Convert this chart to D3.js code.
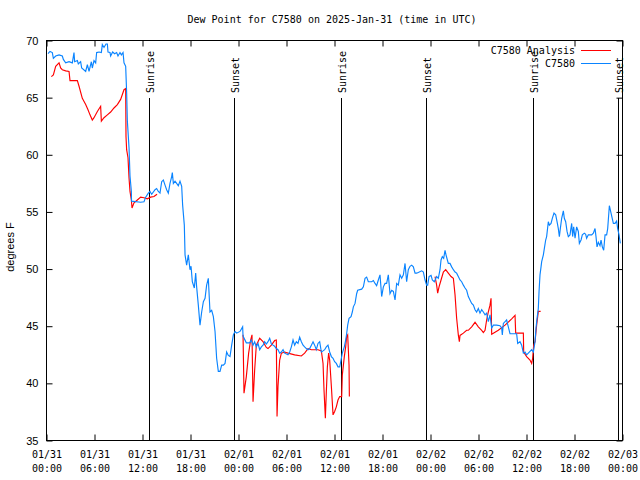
<!DOCTYPE html>
<html><head><meta charset="utf-8">
<script src="https://cdn.jsdelivr.net/npm/d3@7"></script>
<style>body{margin:0;background:#fff}</style>
</head><body>
<svg id="c" width="640" height="480"></svg>
<script>
// ---------------- data ----------------
const chartTitle = "Dew Point for C7580 on 2025-Jan-31 (time in UTC)";
const yTitle = "degrees F";
const seriesNames = ["C7580 Analysis", "C7580"];
const startUTC = Date.UTC(2025, 0, 31, 0, 0);
const xTickHours = [0, 6, 12, 18, 24, 30, 36, 42, 48, 54, 60, 66, 72];
const yTickValues = [35, 40, 45, 50, 55, 60, 65, 70];
const sunriseHours = [12.93, 36.92, 60.9];
const sunsetHours = [23.54, 47.55, 71.55];

// C7580 observations: [hours since 01/31 00:00 UTC, dew point F]
const c7580 = [
[0.25,68.8],[0.5,69.0],[0.79,68.9],[0.92,68.4],[1.21,68.6],[1.63,68.7],[2.04,68.6],[2.17,68.3],[2.46,68.0],[2.88,68.1],
[3.29,68.0],[3.5,68.9],[3.58,68.1],[3.92,68.2],[4.04,67.9],[4.33,68.1],[4.46,67.55],[4.96,67.25],[5.17,67.85],[5.38,67.25],
[5.67,68.1],[5.79,67.55],[6.0,68.2],[6.21,68.0],[6.33,68.9],[6.63,68.95],[6.92,68.9],[7.04,69.6],[7.25,69.35],[7.5,69.65],
[7.67,69.65],[7.75,68.95],[8.0,68.9],[8.08,68.6],[8.33,68.95],[8.58,68.8],[8.83,68.9],[9.0,68.6],[9.25,68.9],[9.42,68.7],
[9.63,68.9],[9.75,68.0],[9.96,67.7],[10.08,65.4],[10.17,62.9],[10.38,60.55],[10.5,58.1],[10.67,56.75],[10.69,55.9],[11.83,55.8],
[12.25,55.85],[12.46,56.25],[12.79,56.6],[13.0,56.75],[13.21,56.5],[13.63,56.9],[13.83,57.0],[14.04,56.75],[14.25,56.6],[14.46,57.6],
[14.67,57.75],[14.88,57.3],[15.08,56.9],[15.29,56.6],[15.5,57.45],[15.71,58.05],[15.79,58.4],[15.92,57.45],[16.13,57.65],[16.33,57.45],
[16.54,57.25],[16.75,57.65],[16.96,57.2],[17.08,55.55],[17.29,53.8],[17.38,51.2],[17.58,50.3],[17.79,51.2],[18.0,49.9],[18.13,50.2],
[18.29,48.85],[18.54,48.3],[18.71,49.6],[18.83,48.4],[19.04,46.8],[19.25,45.05],[19.46,46.2],[19.67,47.1],[19.88,47.4],[20.08,48.55],
[20.29,49.15],[20.5,46.2],[20.71,46.35],[20.92,45.8],[21.13,44.5],[21.33,42.15],[21.54,41.0],[21.75,41.0],[21.96,41.55],[22.17,41.55],
[22.38,41.7],[22.58,42.7],[22.79,42.4],[23.0,42.3],[23.21,43.3],[23.42,44.2],[23.63,44.5],[23.83,44.35],[24.25,44.5],[24.58,44.9],
[24.63,44.1],[25.04,43.5],[25.46,43.5],[25.67,43.75],[25.88,43.3],[26.08,43.6],[26.29,43.15],[26.5,43.45],[26.71,42.9],[26.92,43.15],
[27.13,43.3],[27.33,43.6],[27.54,43.4],[27.75,43.6],[27.96,43.9],[28.17,43.4],[28.38,43.3],[28.58,43.2],[28.79,43.0],[29.0,42.9],
[29.21,42.6],[29.42,42.7],[29.63,42.9],[29.83,42.6],[30.25,42.45],[30.46,42.7],[30.67,43.15],[30.88,43.75],[31.08,43.3],[31.29,43.6],
[31.5,43.45],[31.71,44.0],[31.92,43.6],[32.13,43.3],[32.33,43.15],[32.54,43.0],[32.75,42.9],[32.96,43.0],[33.17,43.3],[33.38,43.6],
[33.58,43.3],[33.79,42.9],[34.0,43.45],[34.21,43.6],[34.42,42.7],[34.63,42.8],[34.83,42.9],[35.04,43.15],[35.25,43.3],[35.46,42.7],
[35.67,42.3],[35.88,42.15],[36.08,41.85],[36.29,41.7],[36.5,41.4],[36.71,41.4],[36.88,42.0],[37.04,42.6],[37.29,43.15],[37.46,43.75],
[37.58,44.3],[37.71,45.05],[37.88,45.65],[38.13,45.8],[38.29,46.2],[38.42,46.65],[38.63,46.95],[38.83,47.8],[38.96,48.1],[39.46,48.2],
[39.67,48.4],[39.88,49.15],[40.08,49.25],[40.29,48.85],[40.71,48.85],[40.92,48.95],[41.13,48.7],[41.33,48.5],[41.54,49.0],[41.75,49.45],
[41.96,47.55],[42.17,48.4],[42.38,48.7],[42.58,48.7],[42.79,49.45],[43.0,47.8],[43.21,48.1],[43.42,48.0],[43.63,47.25],[43.83,48.7],
[44.04,48.55],[44.25,49.45],[44.46,49.15],[44.67,49.45],[44.88,50.45],[45.08,48.85],[45.29,49.9],[45.5,50.2],[45.71,50.3],[45.92,50.15],
[46.13,49.6],[46.33,49.6],[46.54,49.65],[46.96,49.8],[47.17,49.7],[47.38,49.0],[47.58,48.55],[47.71,48.55],[47.88,49.3],[48.13,49.4],
[48.29,49.0],[48.54,48.85],[48.83,49.3],[49.04,49.15],[49.25,49.9],[49.38,50.75],[49.54,51.05],[49.71,50.9],[49.88,51.6],[50.0,51.2],
[50.17,50.75],[50.29,50.45],[50.5,50.45],[50.71,50.15],[50.92,49.9],[51.13,49.7],[51.33,49.6],[51.54,49.3],[51.75,49.0],[51.96,48.85],
[52.17,48.55],[52.38,48.3],[52.58,48.1],[52.79,47.55],[53.0,47.25],[53.21,46.95],[53.42,46.8],[53.63,46.4],[53.83,46.2],[54.04,46.5],
[54.25,46.1],[54.46,46.4],[54.67,46.2],[54.88,45.95],[55.08,46.1],[55.29,45.35],[55.5,45.95],[55.71,44.8],[55.92,45.05],[56.33,45.05],
[56.75,45.0],[56.96,44.8],[57.04,44.2],[57.17,45.2],[57.38,45.35],[57.58,45.5],[57.79,44.9],[58.0,44.3],[58.63,44.3],[58.83,44.3],
[58.96,43.45],[59.25,43.6],[59.46,43.3],[59.67,42.6],[59.88,42.7],[60.08,42.45],[60.29,42.6],[60.71,42.9],[60.92,42.7],[61.13,43.6],
[61.25,44.8],[61.38,45.65],[61.54,46.5],[61.63,48.0],[61.75,49.45],[61.88,50.15],[61.96,50.6],[62.17,51.2],[62.29,51.75],[62.46,52.5],
[62.58,52.8],[62.79,54.1],[62.92,53.8],[63.13,53.95],[63.29,54.4],[63.5,54.85],[63.71,54.7],[63.88,54.1],[64.04,53.5],[64.17,52.8],
[64.29,53.5],[64.46,54.4],[64.67,55.05],[64.79,54.4],[64.96,54.1],[65.13,53.25],[65.29,52.8],[65.5,52.95],[65.71,53.95],[65.83,52.8],
[65.96,53.65],[66.13,52.65],[66.33,53.65],[66.54,53.25],[66.67,52.2],[66.88,52.5],[67.04,52.95],[67.29,53.1],[67.46,53.0],[67.58,52.65],
[67.79,52.95],[68.21,52.95],[68.42,53.1],[68.63,53.5],[68.75,52.8],[68.88,51.9],[69.04,52.3],[69.25,52.0],[69.38,52.5],[69.54,51.9],
[69.71,51.6],[69.88,52.95],[70.08,52.95],[70.21,53.5],[70.29,54.25],[70.42,55.5],[70.63,54.85],[70.92,53.95],[71.13,53.95],[71.33,54.15],
[71.46,53.5],[71.63,52.95],[71.79,52.2]
];

// C7580 Analysis: [hours, dew point F]; null marks a gap in the record
const c7580Analysis = [
[0.67,66.8],[0.92,66.95],[1.21,67.7],[1.63,68.0],[1.83,67.55],[2.04,67.4],[2.46,67.3],[2.88,67.25],[3.0,66.45],[3.92,66.45],
[4.13,65.95],[4.54,64.9],[4.96,64.35],[5.25,63.9],[5.5,63.45],[5.79,63.0],[6.0,63.2],[6.42,63.75],[6.83,64.2],[6.92,62.9],
[7.25,63.2],[7.67,63.45],[8.08,63.7],[8.5,64.05],[8.92,64.35],[9.33,64.8],[9.75,65.65],[9.96,65.75],[10.0,61.55],[10.08,60.4],
[10.25,59.7],[10.38,57.9],[10.5,56.75],[10.67,56.0],[10.75,55.3],[11.0,55.75],[11.42,56.0],[11.83,56.25],[12.25,56.2],[12.67,56.1],
[13.08,56.25],[13.5,56.3],[13.88,56.5],
null,
[24.63,44.2],[24.75,39.1],[25.04,40.55],[25.33,42.6],[25.58,43.75],[25.75,44.2],[25.88,38.35],[26.08,41.1],[26.29,43.3],[26.71,43.9],
[27.13,43.6],[27.54,43.1],[27.75,43.0],[28.17,43.3],[28.58,43.7],[28.79,43.75],[28.88,37.05],[29.0,39.7],[29.21,42.0],[29.42,42.6],
[29.83,42.7],[30.25,42.6],[31.08,42.45],[31.92,42.35],[32.33,42.6],[32.75,43.0],[33.17,42.9],[34.0,42.9],[34.42,42.8],[34.63,41.7],
[34.75,39.4],[34.92,36.9],[35.04,39.2],[35.17,41.4],[35.33,42.6],[35.46,42.0],[35.67,39.7],[35.88,37.2],[36.08,37.5],[36.29,37.9],
[36.5,38.5],[36.71,38.8],[36.96,38.8],[37.04,40.7],[37.29,42.3],[37.46,43.15],[37.58,44.05],[37.71,44.2],[37.88,41.55],[37.92,38.8],
null,
[48.63,49.3],[48.83,48.55],[48.96,47.85],[49.13,48.4],[49.38,49.0],[49.67,49.7],[49.96,49.9],[50.29,49.6],[50.63,49.3],[50.92,49.15],
[51.13,47.7],[51.33,45.65],[51.54,44.2],[51.67,43.6],[51.75,44.15],[52.17,44.35],[52.58,44.6],[52.79,44.6],[53.21,44.9],[53.63,45.3],
[54.04,44.9],[54.46,44.6],[54.67,44.4],[54.88,44.6],[55.08,45.5],[55.29,46.2],[55.5,46.8],[55.63,47.4],[55.71,44.25],[56.54,44.6],
[57.38,45.05],[58.21,45.6],[58.63,45.9],[58.71,44.35],[59.67,44.35],[59.71,42.7],[60.08,42.3],[60.5,42.0],[60.71,41.7],[60.83,42.15],
[60.96,43.3],[61.13,43.6],[61.21,44.2],[61.33,45.05],[61.46,45.8],[61.54,46.25],[61.83,46.25]
];

// ---------------- drawing ----------------
const colorAnalysis = "#ff0000";
const colorObs = "#0a84ff";
const monoFont = "'DejaVu Sans Mono', 'Liberation Mono', monospace";
const sansFont = "'Liberation Sans', Arial, sans-serif";
const L = 46, R = 622, T = 40, B = 440;
const hourToDate = h => new Date(startUTC + h * 3600e3);

const svg = d3.select("#c");
svg.append("rect").attr("width", 640).attr("height", 480).attr("fill", "#fff");

const x = d3.scaleUtc().domain([hourToDate(0), hourToDate(72)]).range([L, R]);
const y = d3.scaleLinear().domain([35, 70]).range([B, T]);

// title
svg.append("text").attr("x", 332).attr("y", 23).attr("text-anchor", "middle")
  .attr("font-family", monoFont).attr("font-size", 10).text(chartTitle);

// y title
svg.append("text").attr("transform", "translate(14,247) rotate(-90)").attr("text-anchor", "middle")
  .attr("font-family", sansFont).attr("font-size", 11).text(yTitle);

// axes
const fmtDay = d3.utcFormat("%m/%d"), fmtTime = d3.utcFormat("%H:%M");
const xTicks = xTickHours.map(hourToDate);
const gx = svg.append("g").attr("transform", `translate(0.5,${B + 0.5})`)
  .call(d3.axisBottom(x).tickValues(xTicks).tickSizeInner(-6).tickSizeOuter(0).tickPadding(10).tickFormat(""));
gx.select(".domain").remove();
gx.selectAll(".tick line").attr("stroke", "#000");
gx.selectAll(".tick").each(function(d) {
  const t = d3.select(this).append("text").attr("fill", "#000").attr("y", 17)
    .attr("font-family", monoFont).attr("font-size", 10).attr("text-anchor", "middle");
  t.append("tspan").attr("x", 0).text(fmtDay(d));
  t.append("tspan").attr("x", 0).attr("dy", 14).text(fmtTime(d));
});
const gxTop = svg.append("g").attr("transform", `translate(0.5,${T + 0.5})`)
  .call(d3.axisTop(x).tickValues(xTicks).tickSizeInner(-6).tickSizeOuter(0).tickFormat(""));
gxTop.select(".domain").remove();

const gy = svg.append("g").attr("transform", `translate(${L + 0.5},0.5)`)
  .call(d3.axisLeft(y).tickValues(yTickValues).tickSizeInner(-6).tickSizeOuter(0).tickPadding(8));
gy.select(".domain").remove();
gy.selectAll(".tick text").attr("font-family", sansFont).attr("font-size", 11).attr("fill", "#000");
const gyR = svg.append("g").attr("transform", `translate(${R + 0.5},0.5)`)
  .call(d3.axisRight(y).tickValues(yTickValues).tickSizeInner(-6).tickSizeOuter(0).tickFormat(""));
gyR.select(".domain").remove();

// sunrise / sunset markers
const events = sunriseHours.map(h => ({h, label: "Sunrise"}))
  .concat(sunsetHours.map(h => ({h, label: "Sunset"})));
const ev = svg.append("g").selectAll("g").data(events).join("g")
  .attr("transform", d => `translate(${Math.round(x(hourToDate(d.h))) + 0.5},0)`);
ev.append("line").attr("y1", 98).attr("y2", B).attr("stroke", "#000").attr("stroke-width", 1);
ev.append("text").attr("transform", "translate(4,93) rotate(-90)")
  .attr("font-family", monoFont).attr("font-size", 10).text(d => d.label);

// series
const line = d3.line().defined(d => d !== null)
  .x(d => x(hourToDate(d[0]))).y(d => y(d[1]));
svg.append("path").datum(c7580Analysis).attr("d", line).attr("fill", "none")
  .attr("stroke", colorAnalysis).attr("stroke-width", 1.15);
svg.append("path").datum(c7580).attr("d", line).attr("fill", "none")
  .attr("stroke", colorObs).attr("stroke-width", 1.15);

// legend
const leg = svg.append("g");
[[seriesNames[0], colorAnalysis, 50], [seriesNames[1], colorObs, 63]].forEach(([name, col, yy]) => {
  leg.append("text").attr("x", 575).attr("y", yy + 4).attr("text-anchor", "end")
    .attr("font-family", monoFont).attr("font-size", 10).text(name);
  leg.append("line").attr("x1", 581).attr("x2", 611).attr("y1", yy + 0.5).attr("y2", yy + 0.5)
    .attr("stroke", col).attr("stroke-width", 1);
});

// border
svg.append("rect").attr("x", L + 0.5).attr("y", T + 0.5).attr("width", R - L).attr("height", B - T)
  .attr("fill", "none").attr("stroke", "#000").attr("stroke-width", 1);
</script>
</body></html>
